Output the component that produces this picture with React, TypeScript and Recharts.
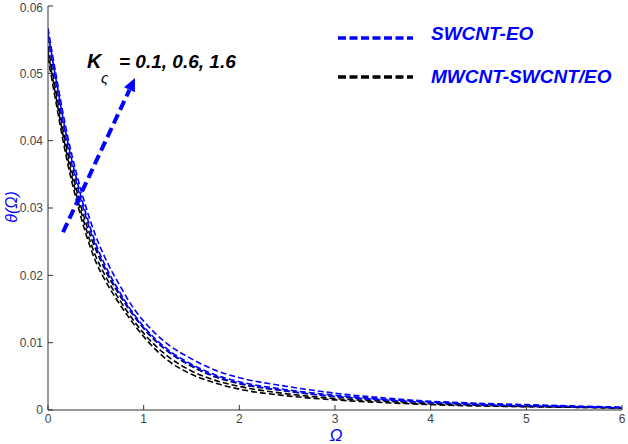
import React from 'react';
import { LineChart, Line, XAxis, YAxis, ReferenceLine } from 'recharts';

const xValues = [0, 0.1, 0.2, 0.3, 0.4, 0.5, 0.6, 0.75, 0.9, 1, 1.25, 1.5, 1.75, 2, 2.5, 3, 3.5, 4, 4.5, 5, 5.5, 6];
const swcnt1 = [0.0567, 0.0485, 0.041, 0.035, 0.03, 0.0258, 0.0225, 0.0185, 0.015, 0.0132, 0.0098, 0.0076, 0.0059, 0.0048, 0.0035, 0.0025, 0.0018, 0.0013, 0.001, 0.0008, 0.0006, 0.0004];
const swcnt2 = [0.056, 0.0478, 0.0402, 0.0342, 0.029, 0.0247, 0.0214, 0.0175, 0.0142, 0.0124, 0.009, 0.0068, 0.0052, 0.0042, 0.003, 0.0022, 0.0016, 0.0012, 0.0009, 0.0007, 0.0005, 0.0004];
const swcnt3 = [0.0554, 0.0472, 0.0396, 0.0336, 0.0285, 0.0243, 0.021, 0.0172, 0.014, 0.0122, 0.0088, 0.0066, 0.005, 0.004, 0.0028, 0.002, 0.0015, 0.0011, 0.0008, 0.0006, 0.0005, 0.0003];
const hybrid1 = [0.054, 0.046, 0.0386, 0.0326, 0.0276, 0.0238, 0.0207, 0.017, 0.0139, 0.0121, 0.0087, 0.0065, 0.0049, 0.0039, 0.0028, 0.002, 0.0015, 0.0011, 0.0008, 0.0006, 0.0005, 0.0003];
const hybrid2 = [0.0532, 0.0452, 0.0378, 0.0318, 0.0268, 0.0228, 0.0199, 0.0163, 0.0132, 0.0114, 0.008, 0.0058, 0.0044, 0.0035, 0.0024, 0.0017, 0.0013, 0.0009, 0.0007, 0.0005, 0.0004, 0.0003];
const hybrid3 = [0.0524, 0.0444, 0.037, 0.031, 0.026, 0.022, 0.0192, 0.0157, 0.0127, 0.0109, 0.0074, 0.0053, 0.004, 0.0031, 0.0021, 0.0015, 0.0011, 0.0008, 0.0006, 0.0005, 0.0004, 0.0003];

const xTicks = [0, 1, 2, 3, 4, 5, 6];
const yTicks = [0, 0.01, 0.02, 0.03, 0.04, 0.05, 0.06];

const arrowStart = { x: 0.157, y: 0.0264 };
const arrowEnd = { x: 0.909, y: 0.0493 };

const data = xValues.map((x, i) => ({
  x,
  s1: swcnt1[i],
  s2: swcnt2[i],
  s3: swcnt3[i],
  h1: hybrid1[i],
  h2: hybrid2[i],
  h3: hybrid3[i],
}));

const BLUE = '#0000ff';
const AXIS = '#333333';
const FONT = 'Liberation Sans, Arial, sans-serif';
const tickStyle = { fontFamily: FONT, fontSize: 12, fill: '#444444' };

const ArrowShape = (props: any) => {
  const { x1, y1, x2, y2 } = props;
  if ([x1, y1, x2, y2].some((v) => typeof v !== 'number' || isNaN(v))) return null;
  const dx = x2 - x1;
  const dy = y2 - y1;
  const len = Math.sqrt(dx * dx + dy * dy);
  const ux = dx / len;
  const uy = dy / len;
  const headLen = 13;
  const headW = 6;
  const bx = x2 - ux * headLen;
  const by = y2 - uy * headLen;
  const px = -uy;
  const py = ux;
  return (
    <g>
      <line x1={x1} y1={y1} x2={bx} y2={by} stroke={BLUE} strokeWidth={4} strokeDasharray="10 5" />
      <polygon
        points={`${x2},${y2} ${bx + px * headW},${by + py * headW} ${bx - px * headW},${by - py * headW}`}
        fill={BLUE}
      />
    </g>
  );
};

const textBase = {
  position: 'absolute' as const,
  fontFamily: FONT,
  fontWeight: 'bold' as const,
  fontStyle: 'italic' as const,
  fontSize: 19,
  color: BLUE,
  whiteSpace: 'nowrap' as const,
  lineHeight: '20px',
};

const dash = { strokeWidth: 1.6, strokeDasharray: '6 3', dot: false, isAnimationActive: false };

export default function App() {
  return (
    <div style={{ position: 'absolute', left: 0, top: 0, width: 628, height: 444, background: '#fff' }}>
      <LineChart width={628} height={444} data={data} margin={{ top: 6, right: 6, left: 0, bottom: 0 }}>
        <XAxis
          dataKey="x"
          type="number"
          domain={[0, 6]}
          ticks={xTicks}
          height={34}
          tickSize={-5}
          tickMargin={9}
          tick={tickStyle}
          stroke={AXIS}
          allowDataOverflow
        />
        <XAxis
          xAxisId="top"
          orientation="top"
          type="number"
          domain={[0, 6]}
          ticks={xTicks}
          height={0}
          tickSize={-5}
          tick={false}
          stroke={AXIS}
        />
        <YAxis
          type="number"
          domain={[0, 0.06]}
          ticks={yTicks}
          width={48}
          tickSize={-5}
          tickMargin={10}
          tick={tickStyle}
          stroke={AXIS}
          allowDataOverflow
        />
        <YAxis
          yAxisId="right"
          orientation="right"
          type="number"
          domain={[0, 0.06]}
          ticks={yTicks}
          width={0}
          tickSize={-5}
          tick={false}
          stroke={AXIS}
        />
        <Line type="monotone" dataKey="h3" stroke="#000" {...dash} />
        <Line type="monotone" dataKey="h2" stroke="#000" {...dash} />
        <Line type="monotone" dataKey="h1" stroke="#000" {...dash} />
        <Line type="monotone" dataKey="s3" stroke={BLUE} {...dash} />
        <Line type="monotone" dataKey="s2" stroke={BLUE} {...dash} />
        <Line type="monotone" dataKey="s1" stroke={BLUE} {...dash} />
        <ReferenceLine segment={[arrowStart, arrowEnd]} shape={ArrowShape} ifOverflow="visible" />
      </LineChart>

      {/* annotation */}
      <div style={{ ...textBase, color: '#000', fontSize: 20, left: 87, top: 51 }}>K</div>
      <div style={{ ...textBase, color: '#000', fontSize: 15, fontWeight: 'normal', left: 101, top: 68 }}>ς</div>
      <div style={{ ...textBase, color: '#000', fontSize: 19, left: 119, top: 52 }}>= 0.1, 0.6, 1.6</div>

      {/* legend */}
      <svg style={{ position: 'absolute', left: 336, top: 30 }} width={80} height={56}>
        <line x1={2} y1={8} x2={77} y2={8} stroke={BLUE} strokeWidth={3.5} strokeDasharray="8 3.5" />
        <line x1={2} y1={47} x2={77} y2={47} stroke="#000" strokeWidth={3.5} strokeDasharray="8 3.5" />
      </svg>
      <div style={{ ...textBase, left: 431, top: 24 }}>SWCNT-EO</div>
      <div style={{ ...textBase, left: 431, top: 67 }}>MWCNT-SWCNT/EO</div>

      {/* axis labels */}
      <div
        style={{
          position: 'absolute',
          left: 12,
          top: 207,
          transform: 'translate(-50%, -50%) rotate(-90deg)',
          fontFamily: FONT,
          fontStyle: 'italic',
          fontSize: 16,
          color: BLUE,
          whiteSpace: 'nowrap',
        }}
      >
        θ(Ω)
      </div>
      <div
        style={{
          position: 'absolute',
          left: 336,
          top: 436,
          transform: 'translate(-50%, -50%)',
          fontFamily: FONT,
          fontStyle: 'italic',
          fontSize: 17,
          color: BLUE,
        }}
      >
        Ω
      </div>
    </div>
  );
}
